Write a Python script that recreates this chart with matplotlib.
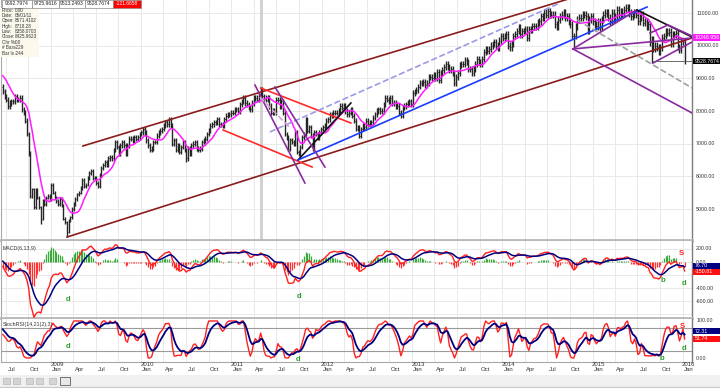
import numpy as np
import pandas as pd
import matplotlib
matplotlib.use('Agg')
import matplotlib.pyplot as plt
import matplotlib.dates as mdates
from matplotlib.patches import Rectangle
from matplotlib.transforms import blended_transform_factory

plt.rcParams['font.family'] = ['Liberation Sans', 'DejaVu Sans']

# weekly closes (Friday bars)
warmup_close = [9200, 8900, 8950, 8950, 8750, 8550, 8450, 8700, 8650, 8900,
                8750, 9100, 9150, 9250, 9150, 9400, 9200, 9250, 8950, 8750]
close_2008 = [8600, 8450,
              8350, 8150, 8250, 8300,
              8300, 8450, 8350, 8350, 8400,
              8050, 7950, 7700, 7300,
              6700, 5400, 5600, 5050, 5600,
              5350, 5050, 4700, 5250,
              5150, 5350, 5400, 5300]
close_2009 = [5750, 5500, 5350, 5250, 5150,
              5300, 5100, 4700, 4600,
              4300, 4650, 4750, 5000,
              5150, 5300, 5450, 5500,
              5650, 5900, 5700, 5750, 5950,
              6100, 6150, 5950, 5950,
              5800, 5700, 6050, 6250, 6350,
              6450, 6350, 6550, 6600,
              6550, 6800, 7050, 6900,
              6700, 6950, 7050, 6950, 6700,
              6950, 7150, 7150, 7100,
              7200, 7150, 7200, 7300]
close_2010 = [7350, 7450, 7350, 7100, 6950,
              6800, 6850, 7050, 7050,
              7250, 7350, 7400, 7450,
              7550, 7650, 7600, 7750, 7550,
              7000, 7100, 6800, 6950,
              6750, 6900, 7050, 6800,
              6550, 6850, 6700, 6950, 7000,
              7050, 6850, 6800, 6850,
              7050, 7100, 7150, 7300,
              7400, 7550, 7600, 7650, 7650,
              7750, 7600, 7600, 7550,
              7750, 7850, 7900, 7900, 7950]
close_2011 = [7950, 8050, 8050, 8000,
              8200, 8300, 8400, 8250,
              8200, 8100, 8050, 8250,
              8400, 8400, 8350, 8500, 8650,
              8450, 8400, 8350, 8400,
              8150, 7950, 8000, 7950,
              8350, 8350, 8150, 8300, 7950,
              7300, 7200, 6850, 7100,
              7050, 7000, 7350, 6750, 6700,
              6900, 7200, 7300, 7750,
              7400, 7500, 7250, 6850,
              7350, 7300, 7200, 7350, 7450]
close_2012 = [7500, 7550, 7700, 7750,
              7900, 7850, 7950, 7950,
              7950, 8000, 8150, 8100, 8150,
              8000, 7900, 7950, 8050,
              7850, 7700, 7450, 7500,
              7250, 7450, 7550, 7500, 7700,
              7600, 7650, 7650, 7800,
              7900, 8000, 8050, 8000, 8000,
              8200, 8400, 8350, 8300,
              8400, 8250, 8250, 8150,
              8150, 7950, 7850, 8100, 8150,
              8200, 8250, 8300, 8200]
close_2013 = [8550, 8600, 8650, 8750,
              8850, 8850, 8900, 8800,
              8850, 9050, 9050, 9000, 9100,
              9000, 9200, 8950, 9150,
              9250, 9350, 9450, 9350, 9250,
              9300, 9150, 8850, 9050,
              9150, 9400, 9450, 9450,
              9550, 9500, 9300, 9300, 9150,
              9300, 9450, 9600, 9500,
              9450, 9600, 9800, 9900,
              9850, 9900, 10000, 10050, 10100,
              10000, 9950, 10150, 10300]
close_2014 = [10250, 10300, 10350, 10000, 9950,
              10050, 10300, 10350, 10450,
              10550, 10350, 10450, 10450,
              10500, 10250, 10500, 10500,
              10600, 10600, 10600, 10700, 10750,
              10900, 10850, 11000, 10950,
              11050, 10950, 10950, 10950,
              10650, 10600, 10800, 10900, 10950,
              11000, 10850, 10900, 10750,
              10650, 10300, 10300, 10600, 10800,
              10850, 10850, 10950, 10950,
              10900, 10450, 10800, 10900]
close_2015 = [10750, 10650, 10600, 10750, 10550,
              10800, 10950, 11000, 11000,
              10850, 10750, 11000, 10800,
              10900, 11100, 10950, 11050,
              11000, 11100, 11150, 11150, 11000,
              10900, 10950, 11000, 10950,
              10750, 10850, 10950, 10700, 10750,
              10600, 10650, 10100, 10200,
              9900, 10000, 9950, 9800,
              9950, 10250, 10300, 10450, 10400,
              10430, 10070, 10360, 10350,
              10380, 9960, 9870, 10130]
close_2016 = [10140, 9528.77]

# weeks with long lower tails
spike_dates = ['2008-11-21', '2009-03-06', '2011-10-07', '2014-10-17', '2015-08-28', '2010-07-02']
spike_lows = [4550, 4150, 6550, 9950, 9480, 6450]

header_text = ['9692.7974', '9725.9616', '9513.2493', '9528.7674', '-121.6658']
info_labels = ['Price:', 'Date:', 'Open:', 'High:', 'Low:', 'Close:', 'Chr %:', '# Bars', 'Bar Ix']
info_values = ['0.00', '05/01/11', '8671.4102', '8718.28', '8358.0703', '8425.9623', '0.0', '-229', '-244']
price_ticks = [11000, 10000, 9000, 8000, 7000, 6000, 5000]
macd_ticks = [200, 0, -400, -600]
ma_label, last_label = '10248.956', '9528.7674'
macd_labels = ['76.70', '-150.81']
stoch_labels = ['72.31', '51.74']

# trend lines drawn on the price pane: (start date, price, end date, price, colour, style)
trend_lines = [
    ('2009-05-10', 6930, '2015-01-30', 11720, '#8b1c1c', '-'),
    ('2009-03-07', 4143, '2016-02-07', 10235, '#8b1c1c', '-'),
    ('2011-04-29', 8704, '2012-04-28', 7633, '#ff2a2a', '-'),
    ('2010-11-28', 7419, '2011-11-23', 6286, '#ff2a2a', '-'),
    ('2011-09-27', 6500, '2012-04-28', 8245, '#111111', '-'),
    ('2011-09-27', 6500, '2015-08-09', 11184, '#1a3cff', '-'),
    ('2011-06-05', 7357, '2014-08-22', 11306, '#9a9ae8', '--'),
    ('2011-04-06', 8796, '2011-10-25', 5796, '#8a2aa0', '-'),
    ('2011-06-26', 8735, '2012-01-14', 6286, '#8a2aa0', '-'),
    ('2011-04-26', 8429, '2011-08-26', 7480, '#d8a0d0', '--'),
    ('2014-10-13', 9900, '2016-02-07', 10235, '#8a2aa0', '-'),
    ('2014-10-13', 9900, '2016-02-07', 7939, '#8a2aa0', '-'),
    ('2014-10-13', 9900, '2015-06-29', 11092, '#8a2aa0', '-'),
    ('2014-10-30', 10786, '2016-02-07', 8704, '#a0a0a0', '--'),
    ('2015-06-29', 11092, '2016-02-07', 10265, '#111111', '-'),
    ('2015-08-21', 10388, '2015-11-02', 10633, '#8a2aa0', '-'),
    ('2015-11-02', 10633, '2016-02-07', 10296, '#8a2aa0', '-'),
    ('2015-09-02', 9469, '2016-02-07', 10112, '#8a2aa0', '-'),
]

# ---- series ----
close = close_2008 + close_2009 + close_2010 + close_2011 + close_2012 + close_2013 + close_2014 + close_2015 + close_2016
dates = pd.date_range(end='2016-01-08', periods=len(close), freq='W-FRI')
warm_dates = pd.date_range(end=dates[0] - pd.Timedelta(days=7), periods=len(warmup_close), freq='W-FRI')
full = pd.Series(warmup_close + close, index=warm_dates.append(dates), dtype=float)

opn = full.shift(1).bfill()
wick = 0.010
high = np.maximum(opn, full) * (1 + wick)
low = np.minimum(opn, full) * (1 - wick)
for d, v in zip(spike_dates, spike_lows):
    i = full.index.get_indexer([pd.Timestamp(d)], method='nearest')[0]
    low.iloc[i] = v

ma = full.rolling(10).mean()
macd = full.ewm(span=6, adjust=False).mean() - full.ewm(span=13, adjust=False).mean()
signal = macd.ewm(span=9, adjust=False).mean()
hist = macd - signal

delta = full.diff().fillna(0)
up = delta.clip(lower=0).ewm(alpha=1 / 14, adjust=False).mean()
dn = (-delta.clip(upper=0)).ewm(alpha=1 / 14, adjust=False).mean()
rsi = 100 - 100 / (1 + up / dn.replace(0, np.nan))
rsi = rsi.fillna(50)
lo = rsi.rolling(21, min_periods=5).min()
hi = rsi.rolling(21, min_periods=5).max()
stoch = ((rsi - lo) / (hi - lo) * 100).fillna(50)
k_line = stoch.rolling(2, min_periods=1).mean()
d_line = k_line.ewm(span=6, adjust=False).mean()

show = full.index >= dates[0]
x = mdates.date2num(full.index[show])

# ---- figure ----
W, H = 720, 388
fig = plt.figure(figsize=(W / 100, H / 100), dpi=100)


def rect(y0, y1):
    return [1 / W, 1 - y1 / H, 691 / W, (y1 - y0) / H]


ax = fig.add_axes(rect(0, 240))
ax_m = fig.add_axes(rect(241, 318), sharex=ax)
ax_s = fig.add_axes(rect(319, 362), sharex=ax)

jan09 = pd.Timestamp('2009-01-01')
px_days = 365.25 / 90.3
x0 = mdates.date2num(jan09 - pd.Timedelta(days=50 * px_days))
x1 = mdates.date2num(jan09 + pd.Timedelta(days=641 * px_days))
ax.set_xlim(x0, x1)
ax.set_ylim(4052, 11398)
ax_m.set_ylim(-861, 323)
ax_s.set_ylim(-10.8, 105.4)

quarters = pd.date_range('2008-07-01', '2016-01-01', freq='QS')
grid_c = '#e9e9e9'
for a in (ax, ax_m, ax_s):
    a.tick_params(left=False, bottom=False, labelleft=False, labelbottom=False)
    for q in quarters:
        a.axvline(mdates.date2num(q), color=grid_c, lw=0.7, zorder=0)
    for s in a.spines.values():
        s.set_color('#a8a8a8')
        s.set_linewidth(0.8)
    a.spines['right'].set_color('#7c7c7c')
    a.spines['right'].set_linewidth(1.0)
    a.spines['top'].set_visible(False)
ax.spines['bottom'].set_linewidth(2)
ax_m.spines['bottom'].set_linewidth(2)
ax.spines['bottom'].set_color('#b8b8b8')
ax_m.spines['bottom'].set_color('#b8b8b8')

for p in range(5000, 11001, 1000):
    ax.axhline(p, color=grid_c, lw=0.7, zorder=0)
for v in (200, 0, -200, -400, -600, -800):
    ax_m.axhline(v, color=grid_c, lw=0.7, zorder=0)
ax_s.axhline(80, color='#9a9a9a', lw=0.8, zorder=1)
ax_s.axhline(20, color='#9a9a9a', lw=0.8, zorder=1)

# cursor line
ax.axvline(mdates.date2num(pd.Timestamp('2011-05-01')), color='#cfcfcf', lw=2, zorder=1)

# price bars
ax.vlines(x, low[show], high[show], color='#262626', lw=1.0, zorder=3)
ax.hlines(opn[show], x - 2.5, x, color='#262626', lw=0.6, zorder=3)
ax.hlines(full[show], x, x + 2.5, color='#262626', lw=0.6, zorder=3)
ax.plot(x, ma[show], color='#ff1aff', lw=1.1, zorder=4)

for d0, p0, d1, p1, c, ls in trend_lines:
    ax.plot(mdates.date2num([pd.Timestamp(d0), pd.Timestamp(d1)]), [p0, p1],
            color=c, ls=ls, lw=1.2, zorder=5)
ax.hlines(9528.77, mdates.date2num(pd.Timestamp('2015-09-02')), x1, color='#555555', lw=0.6, zorder=5)

# MACD pane
h = hist[show].values
ax_m.vlines(x, 0, h, colors=np.where(h >= 0, '#3aa83a', '#ff3030'), lw=0.9, zorder=2)
ax_m.plot(x, macd[show], color='#ff2020', lw=1.0, zorder=3)
ax_m.plot(x, signal[show], color='#000080', lw=1.1, zorder=4)

# StochRSI pane
ax_s.plot(x, k_line[show], color='#ff2020', lw=1.0, zorder=3)
ax_s.plot(x, d_line[show], color='#000080', lw=1.3, zorder=4)

fs = 3.8
ax_m.text(0.003, 0.9, 'MACD(6,13,9)', transform=ax_m.transAxes, fontsize=fs, color='#333333', va='center')
ax_s.text(0.003, 0.88, 'StochRSI(14,21(2),3)', transform=ax_s.transAxes, fontsize=fs, color='#333333', va='center')

# signal letters
marks_m = [('2009-03-11', -569, 'd', '#2a9d2a'), ('2011-10-01', -523, 'd', '#2a9d2a'),
           ('2015-10-13', -277, 'b', '#2a9d2a'), ('2016-01-06', -323, 'd', '#2a9d2a'),
           ('2015-12-24', 138, 'S', '#ff2020')]
marks_s = [('2009-03-11', 32, 'd', '#2a9d2a'), ('2011-09-27', -5, 'd', '#2a9d2a'),
           ('2015-10-08', 0, 'b', '#2a9d2a'), ('2016-01-06', 27, 'd', '#2a9d2a'),
           ('2015-12-28', 86, 'S', '#ff2020')]
for a, marks in ((ax_m, marks_m), (ax_s, marks_s)):
    for d, v, t, c in marks:
        a.text(mdates.date2num(pd.Timestamp(d)), v, t, color=c, fontsize=5.5,
               fontweight='bold', ha='center', va='center', zorder=6)


# right-hand scale labels (in the gutter right of the panes)
def right_label(a, v, s):
    tr = blended_transform_factory(a.transAxes, a.transData)
    a.text(1.006, v, s, transform=tr, fontsize=fs, color='#333333', va='center', ha='left',
           clip_on=False)


def right_box(a, v, s, fc):
    yd = a.transData.transform((x0, v))[1]
    fig.patches.append(Rectangle((693 / W, (yd - 3.2) / H), 27 / W, 6.4 / H, transform=fig.transFigure,
                                 fc=fc, ec='none', zorder=8))
    fig.text(695 / W, yd / H, s, fontsize=fs, color='white', va='center', ha='left', zorder=9)


for p in price_ticks:
    right_label(ax, p, f'{p:.2f}')
right_box(ax, 10248.956, ma_label, '#ff1aff')
right_box(ax, 9528.77, last_label, '#000000')
for v in macd_ticks:
    right_label(ax_m, v, f'{v:.2f}')
right_box(ax_m, -60, macd_labels[0], '#000080')
right_box(ax_m, -150.81, macd_labels[1], '#ff1010')
right_label(ax_s, 100, '100.00')
right_label(ax_s, 0, '0.00')
right_box(ax_s, 72.31, stoch_labels[0], '#000080')
right_box(ax_s, 51.74, stoch_labels[1], '#ff1010')

# time axis labels
trb = blended_transform_factory(ax_s.transData, fig.transFigure)
for q in quarters:
    xc = mdates.date2num(q + pd.Timedelta(days=24))
    ax_s.text(xc, 1 - 369.5 / H, q.strftime('%b'), transform=trb, fontsize=4.3,
              color='#333333', ha='center', va='center', clip_on=False)
    if q.month == 1:
        ax_s.text(xc, 1 - 364 / H, str(q.year), transform=trb, fontsize=4.3,
                  color='#333333', ha='center', va='center', clip_on=False)

# header value boxes
hx = [2, 32, 58.5, 85, 112.5]
hw = [30, 26.5, 26.5, 27.5, 28]
for i, (xx, ww, s) in enumerate(zip(hx, hw, header_text)):
    red = i == len(header_text) - 1
    fig.patches.append(Rectangle((xx / W, 1 - 7.5 / H), ww / W, 7.5 / H, transform=fig.transFigure,
                                 fc='#ff0000' if red else 'white', ec='#8a8a8a', lw=0.5, zorder=8))
    fig.text((xx + ww / 2) / W, 1 - 3.9 / H, s, fontsize=3.6, ha='center', va='center',
             color='white' if red else '#222222', zorder=9)

# cursor info block
fig.patches.append(Rectangle((1 / W, 1 - 57 / H), 38 / W, 49 / H, transform=fig.transFigure,
                             fc='#fbf8ec', ec='none', zorder=7))
for i, (lb, vv) in enumerate(zip(info_labels, info_values)):
    yy = 1 - (10 + i * 5.4) / H
    fig.text(2 / W, yy, lb, fontsize=3.3, va='center', color='#333333', zorder=9)
    fig.text(15 / W, yy, vv, fontsize=3.3, va='center', color='#333333', zorder=9)

# bottom toolbar strip
fig.patches.append(Rectangle((0, 0), 1, 13 / H, transform=fig.transFigure, fc='#f0f0f0', ec='none'))
fig.lines.append(plt.Line2D([0, 1], [1.5 / H, 1.5 / H], transform=fig.transFigure, color='#c8c8c8', lw=0.8))
for xx in [3, 13, 26, 36, 49]:
    fig.patches.append(Rectangle((xx / W, 4 / H), 7 / W, 6 / H, transform=fig.transFigure,
                                 fc='#d4d4d4', ec='#b0b0b0', lw=0.4))
fig.patches.append(Rectangle((60 / W, 3 / H), 10 / W, 8 / H, transform=fig.transFigure,
                             fc='#e8e8e8', ec='#606060', lw=0.6))

fig.savefig('out.png', dpi=100)
